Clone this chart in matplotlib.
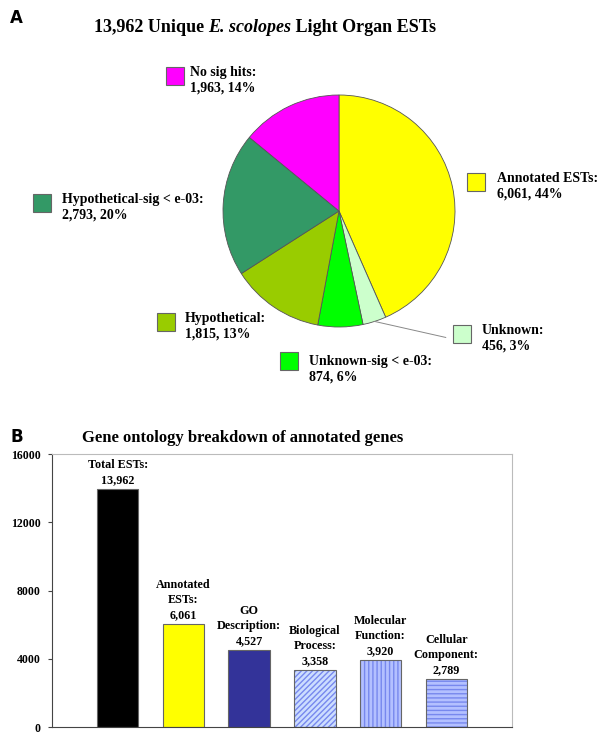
import numpy as np
import matplotlib
matplotlib.use("Agg")
import matplotlib.pyplot as plt
from matplotlib.patches import Rectangle

plt.rcParams['font.family'] = ['Liberation Serif', 'DejaVu Serif']
plt.rcParams['font.weight'] = 'bold'

# pie data (panel A)
pie_names = ["Annotated ESTs:", "Unknown:", "Unknown-sig < e-03:", "Hypothetical:",
             "Hypothetical-sig < e-03:", "No sig hits:"]
pie_counts = [6061, 456, 874, 1815, 2793, 1963]
pie_pct = [44, 3, 6, 13, 20, 14]
pie_colors = ["#FFFF00", "#CCFFCC", "#00FF00", "#99CC00", "#339966", "#FF00FF"]

# bar data (panel B)
bar_names = ["Total ESTs:", "Annotated\nESTs:", "GO\nDescription:", "Biological\nProcess:",
             "Molecular\nFunction:", "Cellular\nComponent:"]
bar_values = [13962, 6061, 4527, 3358, 3920, 2789]
bar_colors = ["#000000", "#FFFF00", "#333399", "#CCDDFF", "#B3C0FF", "#B3C0FF"]
bar_hatch = [None, None, None, "//////", "||||", "----"]
yticks = [0, 4000, 8000, 12000, 16000]

W, H = 600, 741
fig = plt.figure(figsize=(W / 100, H / 100), dpi=100)

def fx(x):
    return x / W

def fy(y):
    return 1 - y / H

# ---- panel A
fig.text(fx(10), fy(18), "A", family="DejaVu Sans", fontsize=12, weight="bold", va="center")
parts = [("13,962 Unique ", "normal"), ("E. scolopes", "italic"), (" Light Organ ESTs", "normal")]
tt = [fig.text(0, fy(27), s, fontsize=13, weight="bold", style=st, va="center") for s, st in parts]
fig.canvas.draw()
r = fig.canvas.get_renderer()
widths = [t.get_window_extent(r).width for t in tt]
xpos = 265 - sum(widths) / 2
for t, wd in zip(tt, widths):
    t.set_position((xpos / W, fy(27)))
    xpos += wd

cx, cy, rad = 339, 211, 116
axp = fig.add_axes([fx(cx - rad), fy(cy + rad), 2 * rad / W, 2 * rad / H])
wedges, _ = axp.pie(pie_counts, colors=pie_colors, startangle=90, counterclock=False,
                    wedgeprops=dict(edgecolor="#555555", linewidth=0.6))
axp.set_xlim(-1, 1)
axp.set_ylim(-1, 1)

# leader line for the small "Unknown" slice
w = wedges[1]
mid = np.deg2rad((w.theta1 + w.theta2) / 2)
axp.plot([np.cos(mid), 0.92], [np.sin(mid), -1.09], color="#888888", lw=0.7, clip_on=False)

# label boxes: (square left, square top, text left)
lab_pos = [(467, 173, 497), (453, 325, 482), (280, 352, 309),
           (157, 313, 185), (33, 194, 62), (166, 67, 190)]
for i, (sx, sy, tx) in enumerate(lab_pos):
    fig.patches.append(Rectangle((fx(sx), fy(sy + 18)), 18 / W, 18 / H, transform=fig.transFigure,
                                 facecolor=pie_colors[i], edgecolor="#666666", lw=0.8))
    ty = sy - 1 if i != 2 else sy + 3
    fig.text(fx(tx), fy(ty), "%s\n%s, %d%%" % (pie_names[i], format(pie_counts[i], ","), pie_pct[i]),
             fontsize=10, weight="bold", va="top", ha="left", linespacing=1.3)

# ---- panel B
fig.text(fx(10), fy(437), "B", family="DejaVu Sans", fontsize=12, weight="bold", va="center")
fig.text(fx(243), fy(438), "Gene ontology breakdown of annotated genes", fontsize=12,
         weight="bold", ha="center", va="center")

axb = fig.add_axes([fx(52), fy(727), 460 / W, (727 - 454) / H])
x = np.arange(1, len(bar_values) + 1)
for i in range(len(bar_values)):
    if bar_hatch[i] is None:
        axb.bar(x[i], bar_values[i], width=0.63, color=bar_colors[i], edgecolor="#666666", lw=0.8)
    else:
        axb.bar(x[i], bar_values[i], width=0.63, color=bar_colors[i],
                edgecolor="#7788EE", lw=0, hatch=bar_hatch[i])
        axb.bar(x[i], bar_values[i], width=0.63, fill=False, edgecolor="#666666", lw=0.8)
    axb.annotate("%s\n%s" % (bar_names[i], format(bar_values[i], ",")), (x[i], bar_values[i]),
                 xytext=(0, 2), textcoords="offset points", ha="center", va="bottom",
                 fontsize=8.7, weight="bold", linespacing=1.35)

axb.set_xlim(0, 7)
axb.set_ylim(0, 16000)
axb.set_yticks(yticks)
axb.set_yticklabels([str(v) for v in yticks], fontsize=8.5, weight="bold")
axb.set_xticks([])
axb.tick_params(axis="y", length=3, width=0.8, color="#444444", pad=5)
for s in ["left", "bottom"]:
    axb.spines[s].set_color("#444444")
for s in ["top", "right"]:
    axb.spines[s].set_color("#BBBBBB")

fig.savefig("out.png", dpi=100)
